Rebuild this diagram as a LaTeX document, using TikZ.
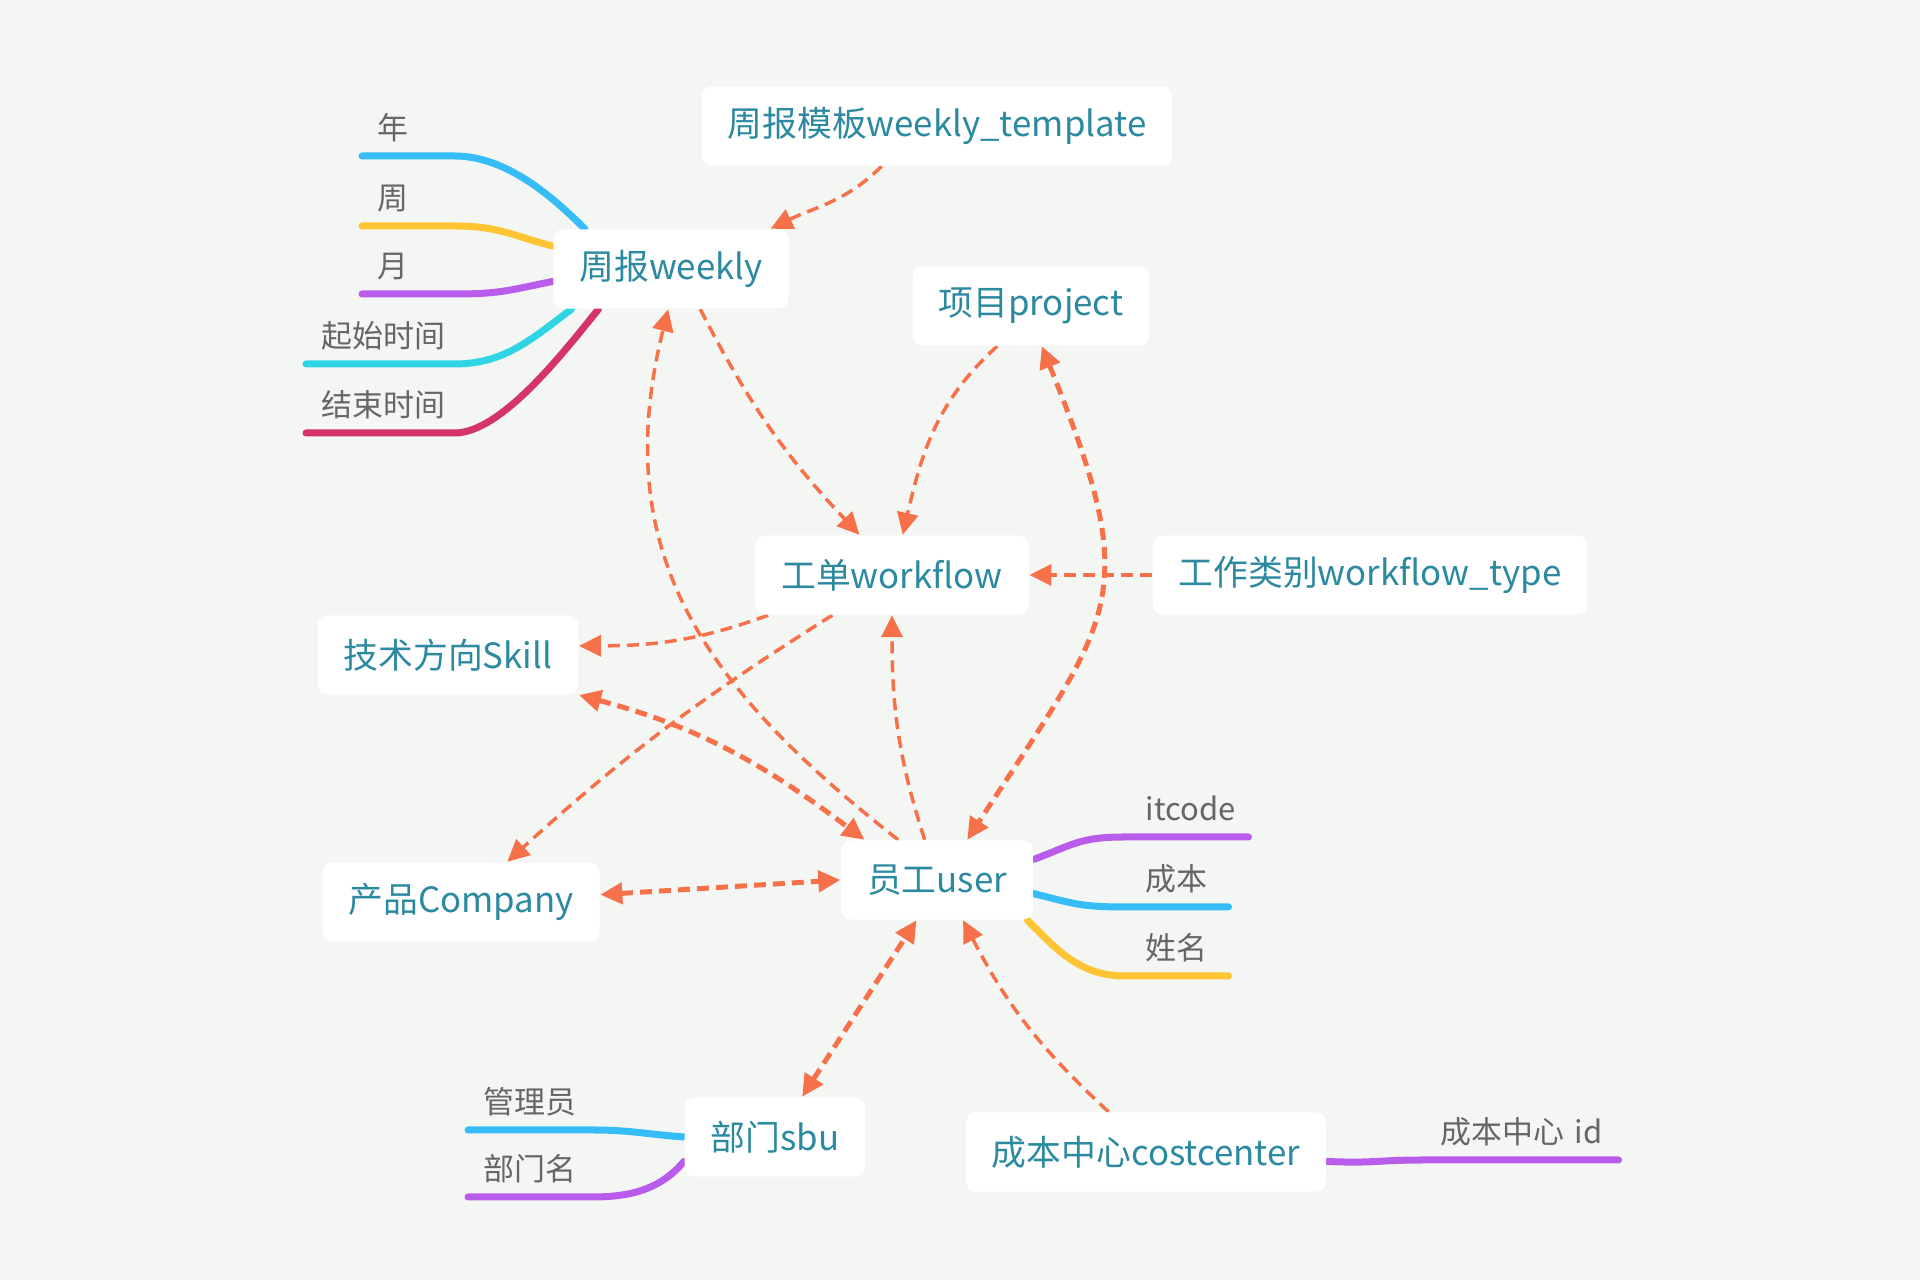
\documentclass[tikz,border=0pt]{standalone}
\usepackage{fontspec}
\setmainfont{Noto Sans CJK SC}
\usetikzlibrary{arrows.meta,calc}
\definecolor{paper}{HTML}{F4F6F3}
\definecolor{ink}{HTML}{2B89A0}
\definecolor{leafink}{HTML}{666666}
\definecolor{coral}{HTML}{F6714A}
\definecolor{bblue}{HTML}{36BCF7}
\definecolor{byellow}{HTML}{FFC433}
\definecolor{bpurple}{HTML}{BA5CEB}
\definecolor{bcyan}{HTML}{30D5E5}
\definecolor{bcrimson}{HTML}{D4336C}
\pgfdeclarelayer{bg}
\pgfdeclarelayer{wires}
\pgfsetlayers{bg,wires,main}
\tikzset{
  ent/.style={fill=white,rounded corners=0.1cm,text=ink,font=\fontsize{9.9pt}{12pt}\selectfont,
    inner xsep=0.26cm,minimum height=0.79cm},
  attr/.style={anchor=south west,align=left,text=leafink,font=\fontsize{8.8pt}{10pt}\selectfont,
    inner xsep=0.15cm,inner ysep=0.12cm,text depth=0.04cm},
  br/.style={line width=0.07cm,line cap=round,draw=#1},
  rel/.style={draw=coral,line width=0.035cm,dash pattern=on 0.12cm off 0.07cm,
    -{Triangle[length=0.22cm,width=0.21cm]}},
  rel2/.style={rel,line width=0.05cm,{Triangle[length=0.22cm,width=0.21cm]}-{Triangle[length=0.22cm,width=0.21cm]}}}
\begin{document}
\begin{tikzpicture}[x=0.01cm,y=-0.01cm]
\useasboundingbox (0,0) rectangle (1920,1280);
\begin{pgfonlayer}{bg}
\fill[paper] (0,0) rectangle (1920,1280);
\end{pgfonlayer}

\node[ent] (tmpl) at (937,126) {周报模板weekly\_template};
\node[ent] (weekly) at (671,269) {周报weekly};
\node[ent] (project) at (1031,306) {项目project};
\node[ent] (workflow) at (892,575) {工单workflow};
\node[ent] (wftype) at (1370,575) {工作类别workflow\_type};
\node[ent] (skill) at (448,655) {技术方向Skill};
\node[ent] (company) at (461,902) {产品Company};
\node[ent] (user) at (937,880) {员工user};
\node[ent] (sbu) at (775,1137) {部门sbu};
\node[ent] (cost) at (1146,1152) {成本中心costcenter};

\node[attr,text width=0.61cm] (nian) at (362,156) {年};
\node[attr,text width=0.61cm] (zhou) at (362,226) {周};
\node[attr,text width=0.63cm] (yue) at (362,294) {月};
\node[attr,text width=1.17cm] (qishi) at (306,364) {起始时间};
\node[attr,text width=1.17cm] (jieshu) at (306,433) {结束时间};
\node[attr,text width=0.82cm,inner xsep=0.2cm] (itcode) at (1125,837) {itcode};
\node[attr,text width=0.62cm,inner xsep=0.2cm] (chengben) at (1125,907) {成本};
\node[attr,text width=0.62cm,inner xsep=0.2cm] (xingming) at (1125,976) {姓名};
\node[attr,text width=0.92cm] (guanli) at (468,1130) {管理员};
\node[attr,text width=0.92cm] (bumen) at (468,1197) {部门名};
\node[attr,text width=1.62cm,inner xsep=0.15cm] (costid) at (1425,1160) {成本中心 id};

\begin{pgfonlayer}{wires}
\draw[br=bblue] (nian.south west) -- (nian.south east) .. controls +(47,0) and +(-40,-40) .. (weekly.155);
\draw[br=byellow] (zhou.south west) -- (zhou.south east) .. controls +(45,0) and +(-40,-10) .. (weekly.169);
\draw[br=bpurple] (yue.south west) -- (yue.south east) .. controls +(45,0) and +(-40,8) .. (weekly.186);
\draw[br=bcyan] (qishi.south west) -- (qishi.south east) .. controls +(50,0) and +(-40,30) .. (weekly.202);
\draw[br=bcrimson] (jieshu.south west) -- (jieshu.south east) .. controls +(45,0) and +(-40,50) .. (weekly.209);
\draw[br=bpurple] (user.12) .. controls +(40,-15) and +(-45,0) .. (itcode.south west) -- (itcode.south east);
\draw[br=bblue] (user.-8) .. controls +(40,10) and +(-45,0) .. (chengben.south west) -- (chengben.south east);
\draw[br=byellow] (user.-24) .. controls +(30,30) and +(-45,0) .. (xingming.south west) -- (xingming.south east);
\draw[br=bblue] (guanli.south west) -- (guanli.south east) .. controls +(40,0) and +(-40,-3) .. (sbu.west);
\draw[br=bpurple] (bumen.south west) -- (bumen.south east) .. controls +(35,0) and +(-25,30) .. (sbu.195);
\draw[br=bpurple] (cost.-3) .. controls +(50,2) and +(-50,0) .. (costid.south west) -- (costid.south east);

\draw[rel] (tmpl.216) to[out=225,in=26] (weekly.22);
\draw[rel] (weekly.-54) to[bend right=8] (workflow.129);
\draw[rel] (project.230) to[out=222,in=77] (workflow.75);
\draw[rel2] (project.-75) to[out=-68,in=57,looseness=1.4] (user.53);
\draw[rel] (wftype.west) -- (workflow.east);
\draw[rel] (workflow.198) to[out=200,in=0] (skill.4);
\draw[rel] (workflow.214) to[bend right=5] (company.41);
\draw[rel] (user.107) to[out=108,in=-90] (workflow.south);
\draw[rel] (user.134) to[out=142,in=-104,looseness=1.1] (weekly.-94);
\draw[rel2] (skill.-17) to[out=-15,in=143] (user.151);
\draw[rel2] (company.3) -- (user.west);
\draw[rel2] (sbu.56) -- (user.243);
\draw[rel] (cost.133) to[bend left=10] (user.-57);
\end{pgfonlayer}
\end{tikzpicture}
\end{document}
